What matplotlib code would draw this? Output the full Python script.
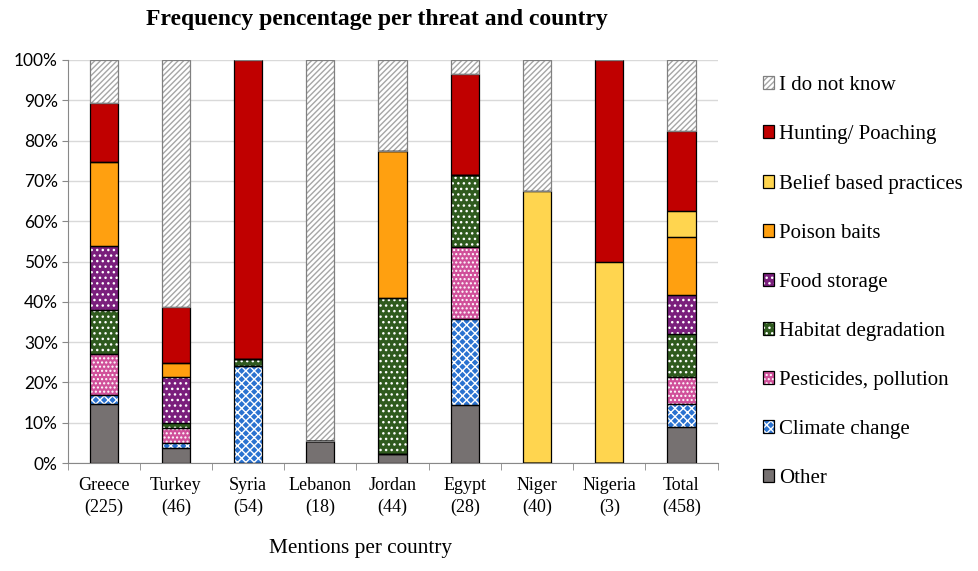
import numpy as np
import matplotlib.pyplot as plt
from matplotlib.patches import Patch

plt.rcParams['font.family'] = ['Liberation Serif', 'DejaVu Serif']
plt.rcParams['hatch.linewidth'] = 1.0

# countries and mention counts
countries = ['Greece', 'Turkey', 'Syria', 'Lebanon', 'Jordan', 'Egypt', 'Niger', 'Nigeria', 'Total']
mentions = [225, 46, 54, 18, 44, 28, 40, 3, 458]

# share of each threat per country (%), stacked from the bottom
other       = [14.7, 3.7, 0.0, 5.6, 2.3, 14.3, 0.0, 0.0, 9.0]
climate     = [2.3, 1.2, 24.1, 0.0, 0.0, 21.4, 0.0, 0.0, 5.7]
pesticides  = [10.1, 3.9, 0.0, 0.0, 0.0, 17.9, 0.0, 0.0, 6.6]
habitat     = [10.8, 1.2, 1.8, 0.0, 38.6, 17.9, 0.0, 0.0, 10.6]
food        = [16.0, 11.3, 0.0, 0.0, 0.0, 0.0, 0.0, 0.0, 9.9]
poison      = [20.7, 3.6, 0.0, 0.0, 36.4, 0.0, 0.0, 0.0, 14.2]
belief      = [0.0, 0.0, 0.0, 0.0, 0.0, 0.0, 67.5, 50.0, 6.5]
hunting     = [14.7, 13.8, 74.1, 0.0, 0.0, 25.0, 0.0, 50.0, 20.0]
dont_know   = [10.7, 61.3, 0.0, 94.4, 22.7, 3.6, 32.5, 0.0, 17.5]

series = [
    ('Other', other, '#767171', None, None),
    ('Climate change', climate, '#2a72d0', 'white', 'xxxx'),
    ('Pesticides, pollution', pesticides, '#d0509a', 'white', '....'),
    ('Habitat degradation', habitat, '#2f5a1e', 'white', '...'),
    ('Food storage', food, '#7a1f7c', 'white', '...'),
    ('Poison baits', poison, '#ffa010', None, None),
    ('Belief based practices', belief, '#ffd54f', None, None),
    ('Hunting/ Poaching', hunting, '#c00000', None, None),
    ('I do not know', dont_know, 'white', '#a6a6a6', '//////'),
]

fig = plt.figure(figsize=(9.79, 5.71), dpi=100)
ax = fig.add_axes([0.069, 0.189, 0.664, 0.706])

x = np.arange(len(countries))
bottom = np.zeros(len(countries))
handles = []
for name, vals, color, hcol, hatch in series:
    vals = np.array(vals)
    edge = '#808080' if name == 'I do not know' else 'black'
    # fill + hatch (hatch takes the edge colour, so the outline is drawn separately)
    ax.bar(x, vals, 0.39, bottom=bottom, color=color, edgecolor=hcol if hcol else color,
           linewidth=0, hatch=hatch, zorder=3)
    ax.bar(x, vals, 0.39, bottom=bottom, facecolor='none', edgecolor=edge,
           linewidth=0.9, zorder=4)
    fill = Patch(facecolor=color, edgecolor=hcol if hcol else color, linewidth=0, hatch=hatch)
    outline = Patch(facecolor='none', edgecolor=edge, linewidth=0.9)
    handles.append((fill, outline))
    bottom += vals

ax.set_xlim(-0.5, len(countries) - 0.5)
ax.set_ylim(0, 100)
ax.set_yticks(np.arange(0, 101, 10))
ax.set_yticklabels([f'{v}%' for v in range(0, 101, 10)], fontsize=12.5, family=['Lato', 'DejaVu Sans'])
ax.set_xticks(x)
ax.set_xticklabels([f'{c}\n({n})' for c, n in zip(countries, mentions)], fontsize=13, linespacing=1.35)
ax.set_xticks(np.arange(-0.5, len(countries), 1), minor=True)
ax.tick_params(axis='x', which='major', length=0, pad=10)
ax.tick_params(axis='x', which='minor', length=5, color='#888888')
ax.tick_params(axis='y', length=4, color='#888888', pad=3)
ax.grid(axis='y', color='#d9d9d9', linewidth=1, zorder=0)
for s in ['top', 'right']:
    ax.spines[s].set_visible(False)
for s in ['left', 'bottom']:
    ax.spines[s].set_color('#888888')

fig.text(0.385, 0.965, 'Frequency pencentage per threat and country', fontsize=17,
         fontweight='bold', ha='center', va='center')
fig.text(0.368, 0.04, 'Mentions per country', fontsize=15.3, ha='center', va='center')

leg = fig.legend(handles[::-1], [s[0] for s in series][::-1], loc='upper left',
                 bbox_to_anchor=(0.76, 0.9), frameon=False, fontsize=15,
                 handlelength=0.55, handleheight=0.55, handletextpad=0.25, labelspacing=1.44)
for t in leg.get_texts():
    t.set_fontfamily('Liberation Serif')

fig.savefig('out.png', dpi=100)
